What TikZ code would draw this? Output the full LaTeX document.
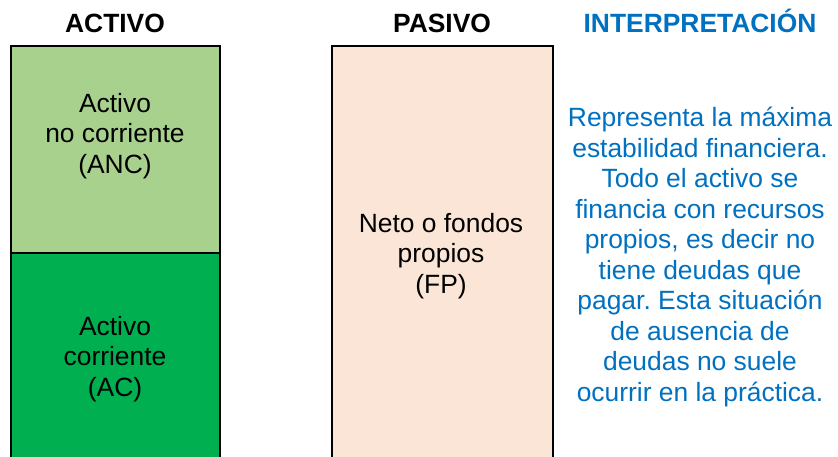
\documentclass[tikz,border=0pt]{standalone}
\usepackage{fontspec}
\setmainfont{Liberation Sans}
\frenchspacing
\definecolor{ancgreen}{HTML}{A9D18E}
\definecolor{acgreen}{HTML}{00B050}
\definecolor{fppeach}{HTML}{FBE5D6}
\definecolor{interblue}{HTML}{0070C0}
\tikzset{
  boxline/.style={line width=1.3pt, draw=black},
  title/.style={font=\fontsize{26.4}{30.5}\selectfont\bfseries, inner sep=0pt, anchor=base},
  body/.style={font=\fontsize{26.4}{30.5}\selectfont\frenchspacing, align=center, inner sep=0pt},
}
\begin{document}
\begin{tikzpicture}[x=1pt,y=-1pt]
\useasboundingbox (0,0) rectangle (838,457);
% boxes
\fill[ancgreen] (11,46) rectangle (220,253);
\fill[acgreen] (11,253) rectangle (220,470);
\fill[fppeach] (332,46) rectangle (553,470);
\draw[boxline] (11,470) -- (11,46) -- (220,46) -- (220,470);
\draw[boxline] (11,253) -- (220,253);
\draw[boxline] (332,470) -- (332,46) -- (553,46) -- (553,470);
% titles
\node[title] (tact) at (115,33) {ACTIVO};
\node[title] (tpas) at (442,33) {PASIVO};
\node[title, text=interblue] (tint) at (700,33) {INTERPRETACIÓN};
% box texts
\node[body] (anc) at (115,136) {Activo\\no corriente\\(ANC)};
\node[body] (ac) at (115,359) {Activo\\corriente\\(AC)};
\node[body] (fp) at (441,256) {Neto o fondos\\propios\\(FP)};
\node[body, text=interblue] (interp) at (700,257) {Representa la máxima\\estabilidad financiera.\\Todo el activo se\\financia con recursos\\propios, es decir no\\tiene deudas que\\pagar. Esta situación\\de ausencia de\\deudas no suele\\ocurrir en la práctica.};
\end{tikzpicture}
\end{document}
